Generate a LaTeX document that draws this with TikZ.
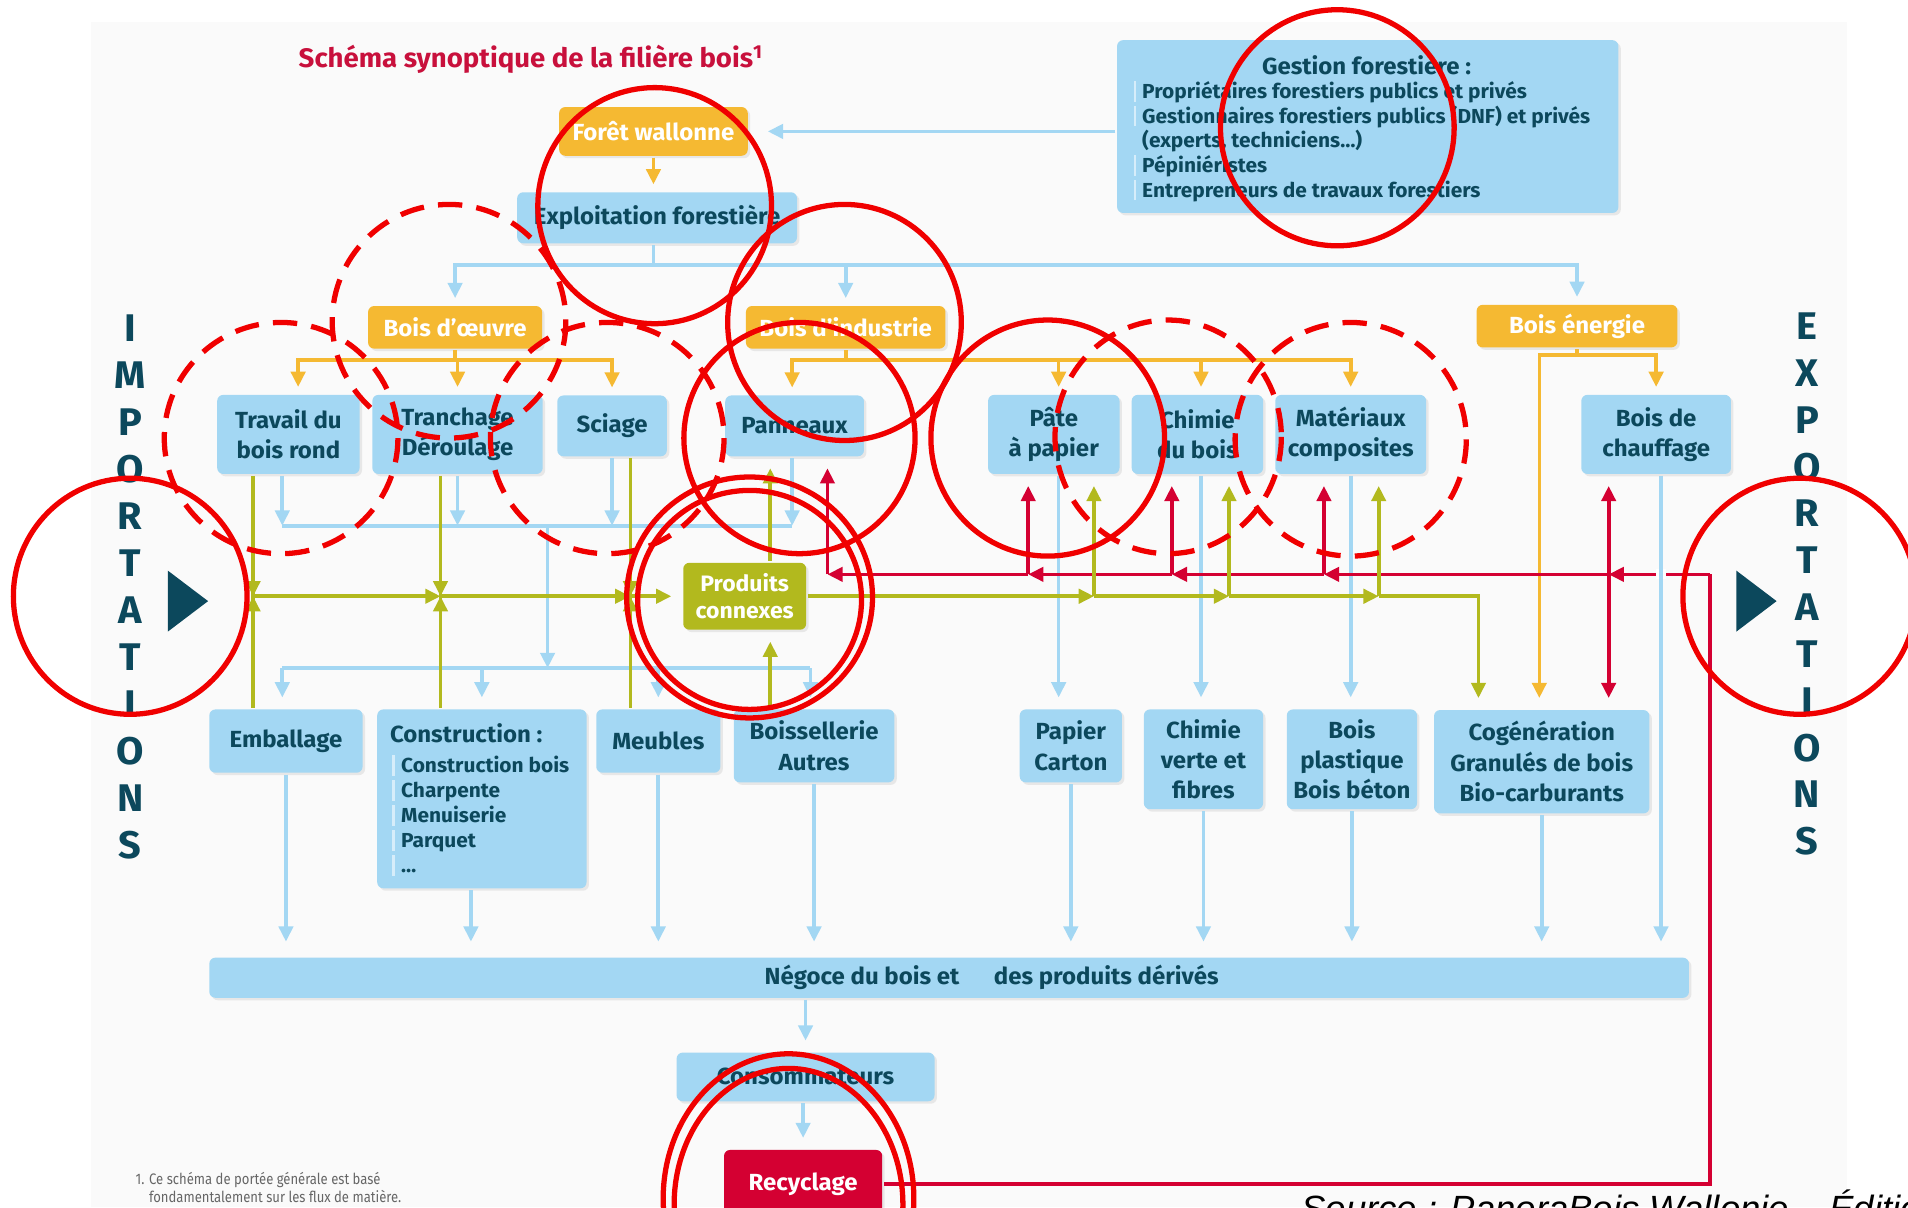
\documentclass[tikz,border=0pt]{standalone}
\usepackage{fontspec}
\setmainfont{Fira Sans}[FakeStretch=1.03]
\newfontfamily\condfont{Fira Sans}[FakeStretch=0.86]
\newfontfamily\srcfont{Liberation Sans}
\usetikzlibrary{arrows.meta,calc,positioning,shadows}
\definecolor{bblue}{RGB}{163,215,243}
\definecolor{borange}{RGB}{245,185,50}
\definecolor{bgreen}{RGB}{178,185,30}
\definecolor{bred}{RGB}{212,0,50}
\definecolor{btext}{RGB}{12,72,92}
\definecolor{annot}{RGB}{240,0,0}
\definecolor{ttitle}{RGB}{200,16,60}
\newcommand{\barre}{{\color{white!55!bblue}\vrule width 1.3pt height 8.5pt depth 1.5pt}\hspace{3pt}}
\tikzset{
	filiere/.style={x=0.6pt, y=-0.6pt, line width=1.8pt,
		>={Triangle[width=7pt,length=7.5pt]},
		font=\bfseries\fontsize{11.5}{15}\selectfont},
	sz/.style 2 args={minimum width=#1*0.6pt, minimum height=#2*0.6pt},
	box/.style={fill=bblue, text=btext, rounded corners=3pt, align=center, inner sep=2pt,
		drop shadow={shadow xshift=1.2pt, shadow yshift=-1.2pt, opacity=0.15}},
	obox/.style={box, fill=borange, text=white},
	gbox/.style={box, fill=bgreen, text=white},
	rbox/.style={box, fill=bred, text=white},
	liste/.style={text=btext, inner sep=0pt, anchor=base west,
		font=\bfseries\fontsize{10}{12}\selectfont},
	lettre/.style={text=btext, inner sep=0pt, font=\bfseries\fontsize{19}{19}\selectfont},
	titre/.style={text=ttitle, inner sep=0pt, font=\bfseries\fontsize{13.2}{16}\selectfont},
	fb/.style={draw=bblue},
	fo/.style={draw=borange},
	fv/.style={draw=bgreen},
	fr/.style={draw=bred},
	ecart/.style={shorten >=5pt},
	cercle/.style={draw=annot, line width=2.6pt},
	tiret/.style={cercle, dash pattern=on 12pt off 7pt}
}

\begin{document}
\begin{tikzpicture}[filiere]
\useasboundingbox (0,0) rectangle (1568,992);
\fill[black!2] (75,18) rectangle (1518,992);

\node[titre, anchor=west] (titre) at (244,49) {Schéma synoptique de la filière bois\textsuperscript{1}};

% amont
\node[obox, sz={155}{40}] (foret) at (537,108) {Forêt wallonne};
\node[box, sz={230}{42}] (exploit) at (540,179) {Exploitation forestière};
\node[box, sz={412}{142}] (gestion) at (1124,104) {};
\node[text=btext] (gtitre) at (1123,53) {Gestion forestière :};
\foreach \t [count=\i from 0] in {\barre Propriétaires forestiers publics et privés,
		\barre Gestionnaires forestiers publics (DNF) et privés,
		{\hphantom{\barre}(experts, techniciens\ldots)},
		\barre Pépiniéristes,
		\barre Entrepreneurs de travaux forestiers}
	\node[liste] (g\i) at (930,{81+20.25*\i}) {\t};

\node[obox, sz={143}{35}] (oeuvre) at (374,269) {Bois d’œuvre};
\node[obox, sz={164}{35}] (industrie) at (695,269) {Bois d’industrie};
\node[obox, sz={165}{35}] (energie) at (1296,268) {Bois énergie};

% transformation
\node[box, sz={117}{65}] (travail) at (237,357) {Travail du\\bois rond};
\node[box, sz={140}{65}] (tranchage) at (376,357) {Tranchage\\Déroulage};
\node[box, sz={90}{50}] (sciage) at (503,350) {Sciage};
\node[box, sz={114}{50}] (panneaux) at (653,350) {Panneaux};
\node[box, sz={108}{65}] (pate) at (866,357) {Pâte\\à papier};
\node[box, sz={108}{65}] (chimie) at (984,357) {Chimie\\du bois};
\node[box, sz={124}{65}] (materiaux) at (1110,357) {Matériaux\\composites};
\node[box, sz={123}{65}] (chauffage) at (1361,357) {Bois de\\chauffage};
\node[gbox, sz={101}{55}, font=\bfseries\fontsize{11}{13}\selectfont] (connexes) at (612,490) {Produits\\connexes};

% produits
\node[box, sz={126}{52}] (emballage) at (235,609) {Emballage};
\node[box, sz={172}{147}] (construction) at (396,656.5) {};
\node[liste, font=\bfseries\fontsize{11.5}{15}\selectfont] (ctitre) at (319,610) {Construction :};
\foreach \t [count=\i from 0] in {Construction bois, Charpente, Menuiserie, Parquet, \ldots}
	\node[liste] (c\i) at (321,{635+20.5*\i}) {\barre\t};
\node[box, sz={102}{52}] (meubles) at (541,609) {Meubles};
\node[box, sz={132}{60}] (boiss) at (669,613) {Boissellerie\\Autres};
\node[box, sz={84}{60}] (papier) at (880,613) {Papier\\Carton};
\node[box, sz={98}{82}] (chimieverte) at (989,624) {Chimie\\verte et\\fibres};
\node[box, sz={107}{82}] (plastique) at (1111,624) {Bois\\plastique\\Bois béton};
\node[box, sz={177}{85}] (cogen) at (1267,626) {Cogénération\\Granulés de bois\\Bio-carburants};

% aval
\node[box, sz={1216}{33}] (negoce) at (780,803.5) {};
\node[text=btext, inner sep=0pt] (negocetxt) at (815,803) {Négoce du bois et\hspace{17pt}des produits dérivés};
\node[box, sz={212}{40}] (conso) at (662,885) {Consommateurs};
\node[rbox, sz={130}{56}] (recyclage) at (660,973) {Recyclage};

\node[text=black!60, align=left, anchor=west, inner sep=0pt,
	font=\condfont\mdseries\fontsize{7.5}{9}\selectfont] (renvoi) at (110,976)
	{1. Ce schéma de portée générale est basé\\\hphantom{1. }fondamentalement sur les flux de matière.};
\node[anchor=base west, inner sep=0pt, font=\srcfont\fontsize{18}{20}\selectfont] (source) at (1068,1004)
	{\textit{Source : PanoraBois Wallonie – Édition}};

% importations / exportations
\fill[btext] (138,469) -- (171,494) -- (138,519) -- cycle;
\fill[btext] (1427,469) -- (1460,494) -- (1427,519) -- cycle;
\foreach \l [count=\i from 0] in {I,M,P,O,R,T,A,T,I,O,N,S}
	\node[lettre] (imp\i) at (107,{270+38.6*\i}) {\l};
\foreach \l [count=\i from 0] in {E,X,P,O,R,T,A,T,I,O,N,S}
	\node[lettre] (exp\i) at (1485,{268+38.5*\i}) {\l};

% flux bleus
\coordinate (exJ) at (537,218);
\draw[fb] (exploit.south -| exJ) -- (exJ);
\foreach \n in {oeuvre,industrie,energie}
	\draw[fb,->,shorten >=3pt] (exJ) -| (\n.north);
\draw[fb,->,shorten >=9pt] (gestion.west |- foret) -- (foret.east);

\coordinate (b1L) at (232,432);
\coordinate (b1M) at (450,432);
\coordinate (b1R) at (651,432);
\coordinate (b2L) at (232,549);
\coordinate (b2R) at (666,549);
\draw[fb] (b1L) -- (b1R);
\draw[fb,->] (travail.south -| b1L) -- (b1L);
\draw[fb,->] (tranchage.south) -- (tranchage.south |- b1L);
\draw[fb,->] (sciage.south) -- (sciage.south |- b1L);
\draw[fb,->] (panneaux.south -| b1R) -- (b1R);
\draw[fb,->] (b1M) -- (b1M |- b2L);
\draw[fb] (b2L) -- (b2R);
\draw[fb,->,ecart] (b2L) -- (emballage.north -| b2L);
\draw[fb,->,ecart] (construction.north |- b2L) -- (construction.north);
\draw[fb,->,ecart] (meubles.north |- b2L) -- (meubles.north);
\draw[fb,->,ecart] (b2R) -- (boiss.north -| b2R);

\coordinate (bp) at (870,0);
\coordinate (bc) at (987,0);
\coordinate (bm) at (1110,0);
\coordinate (bh) at (1365,0);
\draw[fb,->,ecart] (pate.south -| bp) -- (papier.north -| bp);
\draw[fb,->,ecart] (chimie.south -| bc) -- (chimieverte.north -| bc);
\draw[fb,->,ecart] (materiaux.south -| bm) -- (plastique.north -| bm);

\foreach \n in {emballage,meubles,boiss,papier,chimieverte,plastique,cogen}
	\draw[fb,->,shorten >=7pt] (\n.south) -- (\n.south |- negoce.north);
\draw[fb,->,shorten >=7pt] ($(construction.south)+(-9,0)$) -- ($(construction.south |- negoce.north)+(-9,0)$);
\draw[fb,->,ecart] (negoce.south -| conso) -- (conso.north);
\draw[fb,->,ecart] (conso.south -| recyclage) -- (recyclage.north);

% flux orange
\draw[fo,->,shorten >=3pt] (foret.south -| exJ) -- (exploit.north -| exJ);
\coordinate (oeJ) at (374,296);
\draw[fo] (oeuvre.south) -- (oeJ);
\draw[fo,->,shorten >=3pt] (oeJ) -| ($(travail.north)+(8,0)$);
\draw[fo,->,shorten >=3pt] (oeJ) -| (tranchage.north);
\draw[fo,->,shorten >=3pt] (oeJ) -| (sciage.north);
\coordinate (inJ) at (695,296);
\draw[fo] (industrie.south) -- (inJ);
\draw[fo,->,shorten >=3pt] (inJ) -| ($(panneaux.north)+(-2,0)$);
\draw[fo,->,shorten >=3pt] (inJ) -| ($(pate.north)+(4,0)$);
\draw[fo,->,shorten >=3pt] (inJ) -| ($(chimie.north)+(3,0)$);
\draw[fo,->,shorten >=3pt] (inJ) -| (materiaux.north);
\coordinate (enJ) at (1296,292);
\draw[fo] (energie.south -| enJ) -- (enJ);
\draw[fo,->,shorten >=3pt] (enJ) -| (chauffage.north);
\draw[fo,->,ecart] (enJ) -| ($(cogen.north)+(-2,0)$);

% flux rouges
\coordinate (rdR) at (1405,472);
\coordinate (rd4) at (1322,472);
\coordinate (rd3) at (1088,472);
\coordinate (rd2) at (963,472);
\coordinate (rd1) at (845,472);
\coordinate (rdL) at (680,472);
\draw[fr] (recyclage.east) -| (rdR);
\draw[fr,->] (rdR) -- (rd4);
\draw[fr,->] (rd4) -- (rd3);
\draw[fr,->] (rd3) -- (rd2);
\draw[fr,->] (rd2) -- (rd1);
\draw[fr,->] (rd1) -- (rdL);
\draw[fr,->,ecart] (rdL) -- (panneaux.south -| rdL);
\draw[fr,->,ecart] (rd1) -- (pate.south -| rd1);
\draw[fr,->,ecart] (rd2) -- (chimie.south -| rd2);
\draw[fr,->,ecart] (rd3) -- (materiaux.south -| rd3);
\draw[fr,->,ecart] (rd4) -- (chauffage.south -| rd4);
\draw[fr,->,ecart] (rd4) -- (cogen.north -| rd4);
\draw[white, line width=4.5pt] ($(bh |- rdR)+(0,-4)$) -- ($(bh |- rdR)+(0,4)$);
\draw[fb,->,shorten >=7pt] (chauffage.south -| bh) -- (negoce.north -| bh);

% flux verts
\coordinate (g1) at (208,490);
\coordinate (g2) at (362,490);
\coordinate (g3) at (518,490);
\coordinate (g4) at (899,490);
\coordinate (g5) at (1010,490);
\coordinate (g6) at (1133,490);
\coordinate (g7) at (1215,490);
\coordinate (gp) at (633,0);
\draw[fv] (travail.south -| g1) -- (emballage.north -| g1);
\draw[fv] (tranchage.south -| g2) -- (construction.north -| g2);
\draw[fv] (sciage.south -| g3) -- (meubles.north -| g3);
\foreach \c in {g1,g2,g3} {
	\draw[fv,->] (\c) ++(0,-22) -- (\c);
	\draw[fv,->] (\c) ++(0,22) -- (\c);
}
\draw[fv,->] (g1) -- (g2);
\draw[fv,->] (g2) -- (g3);
\draw[fv,->,ecart] (g3) -- (connexes.west);
\draw[fv,->] (connexes.east) -- (g4);
\draw[fv,->] (g4) -- (g5);
\draw[fv,->] (g5) -- (g6);
\draw[fv,->,ecart] (g6) -| (cogen.north -| g7);
\draw[fv,->,ecart] (g4) -- (pate.south -| g4);
\draw[fv,->,ecart] (g5) -- (chimie.south -| g5);
\draw[fv,->,ecart] (g6) -- (materiaux.south -| g6);
\draw[fv,->,ecart] (connexes.north -| gp) -- (panneaux.south -| gp);
\draw[fv,->,ecart] (boiss.north -| gp) -- (connexes.south -| gp);

% annotations
\draw[cercle] (538,169) ellipse [x radius=96, y radius=97];
\draw[cercle] (1099,105) ellipse [x radius=96, y radius=97];
\draw[cercle] (694,265) ellipse [x radius=96, y radius=97];
\draw[cercle] (657,360) ellipse [x radius=95, y radius=95];
\draw[cercle] (616,491) ellipse [x radius=101, y radius=99];
\draw[cercle] (616,493) ellipse [x radius=92, y radius=90];
\draw[cercle] (861,360) ellipse [x radius=96, y radius=97];
\draw[cercle] (107,490) ellipse [x radius=96, y radius=97];
\draw[cercle] (1479,490) ellipse [x radius=96, y radius=97];
\draw[cercle] (648,985) ellipse [x radius=103, y radius=119];
\draw[cercle] (648,990) ellipse [x radius=94, y radius=112];
\draw[tiret] (369,264) ellipse [x radius=96, y radius=96];
\draw[tiret] (231,360) ellipse [x radius=96, y radius=95];
\draw[tiret] (499,360) ellipse [x radius=96, y radius=95];
\draw[tiret] (960,359) ellipse [x radius=93, y radius=96];
\draw[tiret] (1110,361) ellipse [x radius=95, y radius=96];
\end{tikzpicture}
\end{document}
